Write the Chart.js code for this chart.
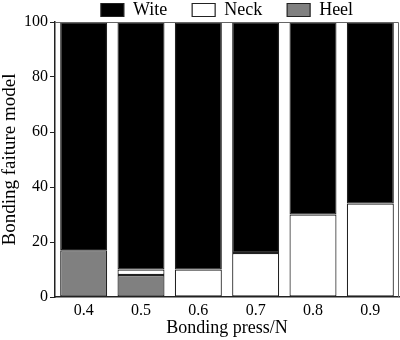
<!DOCTYPE html>
<html>
<head>
<meta charset="utf-8">
<script src="https://cdn.jsdelivr.net/npm/chart.js@4/dist/chart.umd.min.js"></script>
<style>
  html, body { margin: 0; padding: 0; background: #fff; }
  #wrap { width: 400px; height: 340px; }
</style>
</head>
<body>
<div id="wrap"><canvas id="chart"></canvas></div>
<script>
const pressures = ["0.4", "0.5", "0.6", "0.7", "0.8", "0.9"];
// failure share per mode, percent (null = mode not seen)
const heel = [17, 8, null, null, null, null];
const neck = [null, 2, 10, 16, 30, 34];
const wite = [83, 90, 90, 84, 70, 66];

const serif = "'Liberation Serif', 'DejaVu Serif', serif";
const legendGap = 25;

/* light frame on top and right of the plot */
const frame = {
  id: "frame",
  afterDatasetsDraw(chart) {
    const a = chart.chartArea;
    const ctx = chart.ctx;
    ctx.save();
    ctx.strokeStyle = "#666";
    ctx.lineWidth = 1;
    ctx.beginPath();
    ctx.moveTo(a.left, a.top + 0.5);
    ctx.lineTo(a.right - 0.5, a.top + 0.5);
    ctx.lineTo(a.right - 0.5, a.bottom);
    ctx.stroke();
    ctx.restore();
  }
};

/* the legend's wide item spacing also pads it vertically; keep it a short strip */
const tightLegend = {
  id: "tightLegend",
  afterInit(chart) {
    const legend = chart.legend;
    const fit = legend.fit;
    legend.fit = function () {
      fit.call(this);
      this.height = legendGap + 21;
    };
  }
};

new Chart(document.getElementById("chart"), {
  type: "bar",
  data: {
    labels: pressures,
    datasets: [
      {
        label: "Heel",
        data: heel,
        backgroundColor: "#808080",
        borderColor: "#222",
        borderWidth: 1.2,
        borderSkipped: false
      },
      {
        label: "Neck",
        data: neck,
        backgroundColor: "#fff",
        borderColor: "#222",
        borderWidth: 1.2,
        borderSkipped: false
      },
      {
        label: "Wite",
        data: wite,
        backgroundColor: "#000",
        borderColor: "#222",
        borderWidth: 1.2,
        borderSkipped: false
      }
    ]
  },
  options: {
    responsive: true,
    maintainAspectRatio: false,
    animation: false,
    layout: { padding: { top: 1 - legendGap, right: 1, left: 1, bottom: 3 } },
    datasets: {
      bar: { categoryPercentage: 0.82, barPercentage: 1 }
    },
    plugins: {
      tooltip: { enabled: false },
      legend: {
        position: "top",
        fullSize: false,
        reverse: true,
        labels: {
          boxWidth: 23,
          boxHeight: 13,
          padding: legendGap,
          color: "#000",
          font: { family: serif, size: 18 }
        }
      }
    },
    scales: {
      x: {
        stacked: true,
        grid: { display: false, drawTicks: false },
        border: { display: true, color: "#222", width: 1.5 },
        ticks: {
          color: "#000",
          padding: 6,
          font: { family: serif, size: 16, lineHeight: 1 }
        },
        title: {
          display: true,
          text: "Bonding press/N",
          color: "#000",
          padding: { top: -6, bottom: 0 },
          font: { family: serif, size: 18, lineHeight: 1 }
        }
      },
      y: {
        stacked: true,
        min: 0,
        max: 100,
        grid: {
          drawOnChartArea: false,
          drawTicks: true,
          tickLength: 5,
          color: "#222"
        },
        border: { display: true, color: "#222", width: 1.5 },
        ticks: {
          stepSize: 20,
          color: "#000",
          padding: 2,
          font: { family: serif, size: 16 }
        },
        title: {
          display: true,
          text: "Bonding faiture model",
          color: "#000",
          padding: { top: 0, bottom: 2 },
          font: { family: serif, size: 19, lineHeight: 1 }
        }
      }
    }
  },
  plugins: [frame, tightLegend]
});
</script>
</body>
</html>
